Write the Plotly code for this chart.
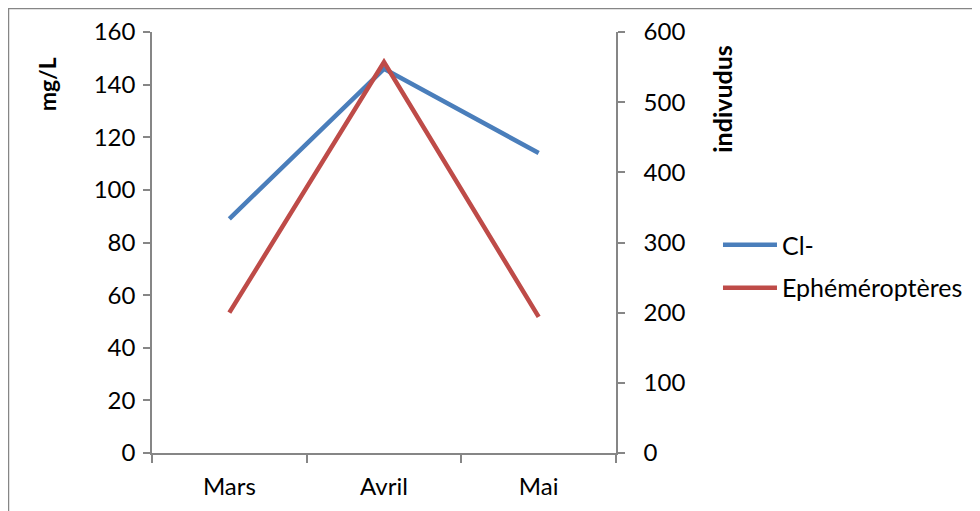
import plotly.graph_objects as go

months = ["Mars", "Avril", "Mai"]
chlorure = [89, 146, 114]          # mg/L (left axis)
ephemeropteres = [200, 557, 194]   # individus (right axis)
left_ticks = [0, 20, 40, 60, 80, 100, 120, 140, 160]
right_ticks = [0, 100, 200, 300, 400, 500, 600]

FONT = "Lato"
FS = 24
AXC = "#868686"

fig = go.Figure()
fig.add_trace(go.Scatter(x=months, y=chlorure, name="Cl-", mode="lines",
                         line=dict(color="#4A7EBB", width=4.5), yaxis="y",
                         legend="legend"))
fig.add_trace(go.Scatter(x=months, y=ephemeropteres, name="Ephéméroptères", mode="lines",
                         line=dict(color="#BE4B48", width=4.5), yaxis="y2",
                         legend="legend2"))

leg_common = dict(xanchor="left", yanchor="middle", font=dict(family=FONT, size=25),
                  itemwidth=54, bgcolor="rgba(0,0,0,0)")

fig.update_layout(
    width=980, height=511,
    margin=dict(l=144, r=372, t=24, b=66, autoexpand=False),
    paper_bgcolor="white", plot_bgcolor="white",
    font=dict(family=FONT, size=FS, color="black"),
    showlegend=True,
    legend=dict(x=1.2198, y=0.494, **leg_common),
    legend2=dict(x=1.2198, y=0.392, **leg_common),
    xaxis=dict(type="category", range=[-0.5, 2.5], tickson="boundaries",
               ticks="outside", ticklen=8, tickcolor=AXC, tickwidth=1.5,
               showline=True, linecolor=AXC, linewidth=1.5, showgrid=False,
               zeroline=False, ticklabelstandoff=11,
               tickfont=dict(family=FONT, size=FS)),
    yaxis=dict(range=[0, 160], tickvals=left_ticks, ticks="outside", ticklen=7,
               tickcolor=AXC, tickwidth=1.5, showline=True, linecolor=AXC,
               linewidth=1.5, showgrid=False, zeroline=False,
               ticklabelstandoff=3, tickfont=dict(family=FONT, size=FS)),
    yaxis2=dict(range=[0, 600], tickvals=right_ticks, overlaying="y", side="right",
                ticks="outside", ticklen=7, tickcolor=AXC, tickwidth=1.5,
                showline=True, linecolor=AXC, linewidth=1.5, showgrid=False,
                zeroline=False, ticklabelstandoff=14,
                tickfont=dict(family=FONT, size=FS)),
    annotations=[
        dict(text="<b>mg/L</b>", xref="paper", yref="paper", x=-0.226, y=0.876,
             textangle=-90, showarrow=False, font=dict(family=FONT, size=23),
             xanchor="center", yanchor="middle"),
        dict(text="<b>indivudus</b>", xref="paper", yref="paper", x=1.228, y=0.841,
             textangle=-90, showarrow=False, font=dict(family=FONT, size=25),
             xanchor="center", yanchor="middle"),
    ],
    shapes=[
        dict(type="rect", xref="paper", yref="paper", x0=-0.3093, x1=1.9,
             y0=-0.3, y1=1.0558, line=dict(color="#868686", width=1.5),
             fillcolor="rgba(0,0,0,0)", layer="below"),
    ],
)

fig.write_html("out.html")
